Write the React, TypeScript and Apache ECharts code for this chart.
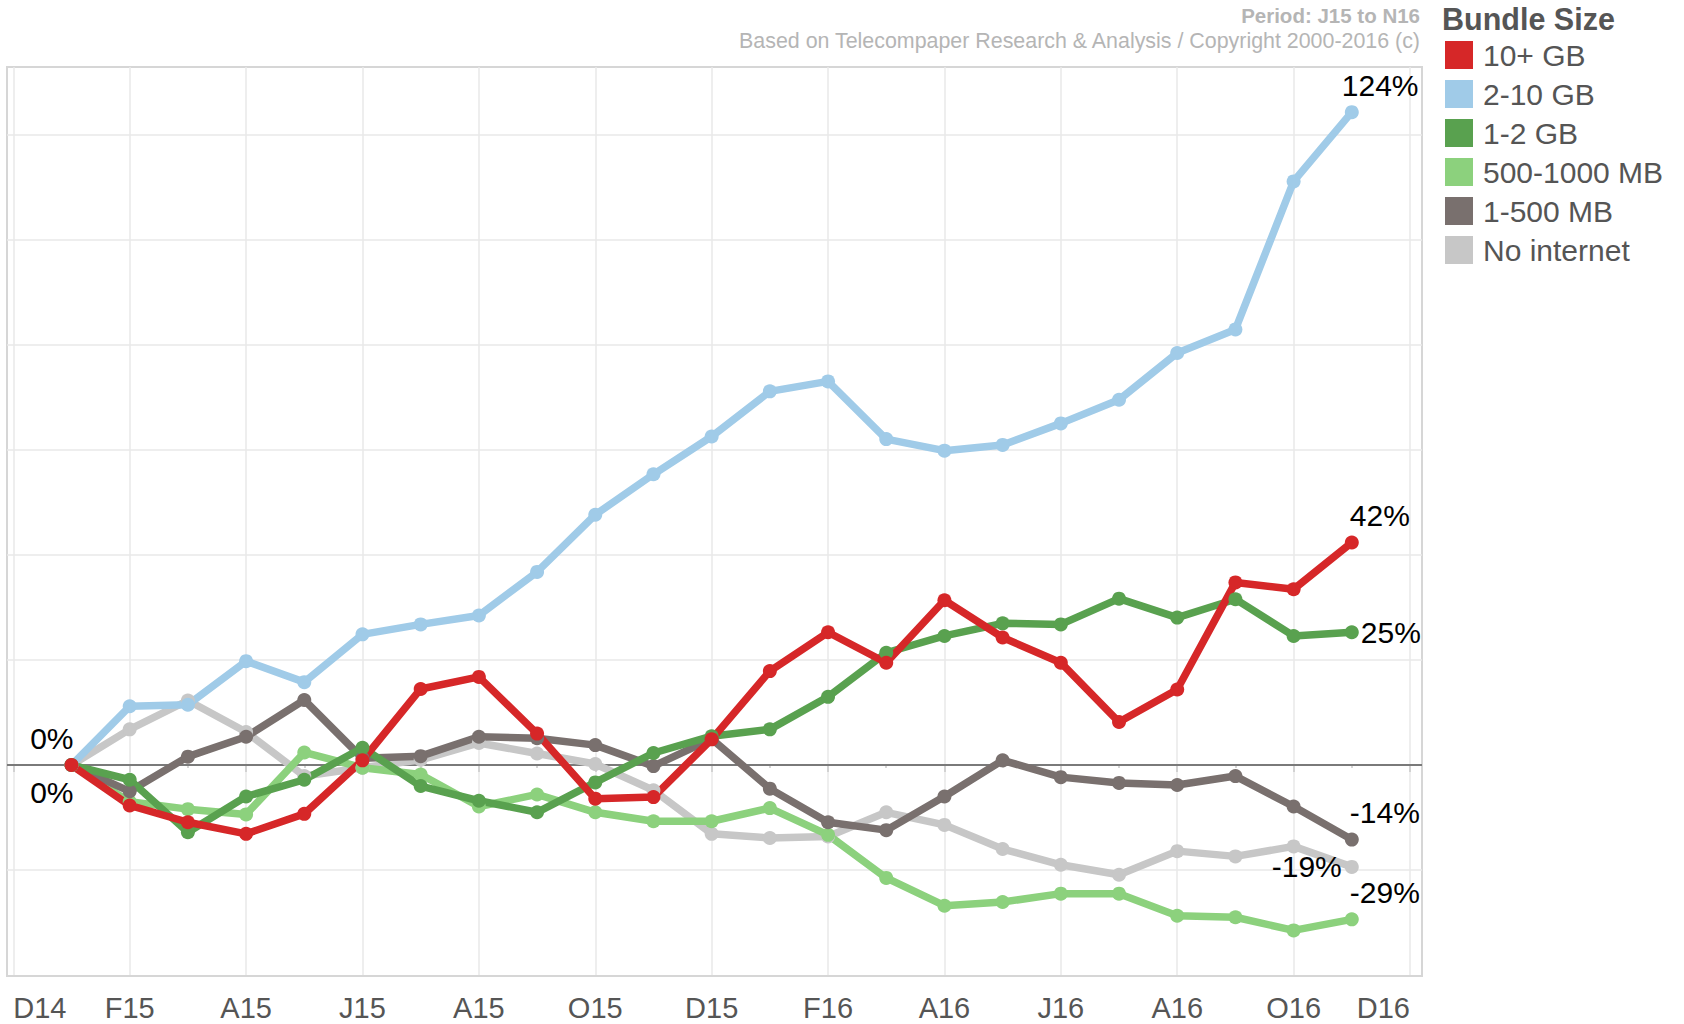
import React, { useEffect, useRef } from 'react';
import * as echarts from 'echarts';

const FONT = 'Arial, "Liberation Sans", Helvetica, sans-serif';

// Axis tick labels, every two months from Dec 2014 (month 0) to Dec 2016 (month 24)
const tickLabels = ['D14', 'F15', 'A15', 'J15', 'A15', 'O15', 'D15', 'F16', 'A16', 'J16', 'A16', 'O16', 'D16'];

// Data months: Jan 2015 .. Nov 2016
const months = ['Jan 15', 'Feb 15', 'Mar 15', 'Apr 15', 'May 15', 'Jun 15', 'Jul 15', 'Aug 15', 'Sep 15', 'Oct 15', 'Nov 15', 'Dec 15',
  'Jan 16', 'Feb 16', 'Mar 16', 'Apr 16', 'May 16', 'Jun 16', 'Jul 16', 'Aug 16', 'Sep 16', 'Oct 16', 'Nov 16'];

// Legend order
const bundles = ['10+ GB', '2-10 GB', '1-2 GB', '500-1000 MB', '1-500 MB', 'No internet'];

// % change vs January 2015
const gb10Plus = [0, -7.7, -10.9, -13.1, -9.3, 0.9, 14.5, 16.8, 6.0, -6.4, -6.1, 4.9, 17.9, 25.3, 19.5, 31.4, 24.3, 19.5, 8.2, 14.4, 34.8, 33.5, 42.4];
const gb2to10 = [0, 11.2, 11.5, 19.8, 15.8, 24.9, 26.8, 28.5, 36.8, 47.7, 55.4, 62.6, 71.2, 73.1, 62.1, 59.9, 61.0, 65.1, 69.6, 78.5, 83.0, 111.2, 124.4];
const gb1to2 = [0, -2.8, -12.8, -6.0, -2.8, 3.3, -4.0, -6.8, -9.0, -3.3, 2.3, 5.5, 6.8, 13.0, 21.4, 24.6, 27.0, 26.8, 31.7, 28.1, 31.6, 24.6, 25.3];
const mb500to1000 = [0, -7.0, -8.4, -9.4, 2.4, -0.5, -1.8, -7.9, -5.6, -9.0, -10.7, -10.7, -8.2, -13.3, -21.5, -26.8, -26.1, -24.5, -24.5, -28.7, -29.0, -31.5, -29.4];
const mb1to500 = [0, -5.0, 1.6, 5.4, 12.4, 1.3, 1.7, 5.4, 5.1, 3.8, -0.2, 5.0, -4.5, -10.9, -12.4, -6.0, 0.9, -2.3, -3.4, -3.8, -2.1, -7.9, -14.2];
const noInternet = [0, 6.8, 12.3, 6.3, -2.1, -0.5, 1.0, 4.2, 2.2, 0.2, -4.8, -13.1, -13.9, -13.6, -9.0, -11.4, -16.0, -19.0, -20.9, -16.4, -17.4, -15.5, -19.4];

const colors: Record<string, string> = {
  '10+ GB': '#d62728',
  '2-10 GB': '#a0cbe8',
  '1-2 GB': '#59a14f',
  '500-1000 MB': '#8cd17d',
  '1-500 MB': '#79706e',
  'No internet': '#c7c7c7',
};

// drawing order (bottom to top)
const seriesDefs: { name: string; values: number[]; end: any; start?: any }[] = [
  { name: 'No internet', values: noInternet, end: { position: 'left', distance: 3 } },
  { name: '500-1000 MB', values: mb500to1000, end: { position: 'top', align: 'left', offset: [-2, 0] } },
  { name: '1-500 MB', values: mb1to500, end: { position: 'top', align: 'left', offset: [-2, 0] } },
  { name: '2-10 GB', values: gb2to10, end: { position: 'top', align: 'left', offset: [-10, 0] }, start: { position: 'top', align: 'right', offset: [2, 0] } },
  { name: '1-2 GB', values: gb1to2, end: { position: 'right', distance: 2 } },
  { name: '10+ GB', values: gb10Plus, end: { position: 'top', align: 'left', offset: [-2, 0] }, start: { position: 'bottom', align: 'right', offset: [2, 0] } },
];

export default function App() {
  const ref = useRef<HTMLDivElement>(null);

  useEffect(() => {
    document.body.style.margin = '0';
    const chart = echarts.init(ref.current!, null, { renderer: 'svg' });

    const dataSeries = seriesDefs.map((def) => {
      const color = colors[def.name];
      return {
        type: 'line',
        name: def.name,
        xAxisIndex: 0,
        yAxisIndex: 0,
        data: def.values.map((v, i) => {
          const item: any = { value: [i + 1, v], name: months[i] };
          if (i === def.values.length - 1) item.label = { show: true, ...def.end };
          if (i === 0 && def.start) item.label = { show: true, ...def.start };
          return item;
        }),
        symbol: 'circle',
        symbolSize: 14,
        showAllSymbol: true,
        lineStyle: { width: 7.5, color, join: 'round', cap: 'round' },
        itemStyle: { color },
        label: {
          show: false,
          formatter: (p: any) => Math.round(p.value[1]) + '%',
          fontSize: 30,
          color: '#000',
          fontFamily: FONT,
        },
        emphasis: { disabled: true },
        silent: true,
      };
    });

    const option: any = {
      animation: false,
      backgroundColor: '#fff',
      textStyle: { fontFamily: FONT },
      grid: [
        { left: 13.3, right: 274, top: 67, bottom: 49 },
        { left: 7, right: 262, top: 67, bottom: 49 },
      ],
      legend: {
        data: bundles,
        orient: 'vertical',
        left: 1445,
        top: 40,
        padding: 0,
        itemWidth: 28,
        itemHeight: 28,
        itemGap: 9,
        icon: 'rect',
        selectedMode: false,
        textStyle: { fontSize: 30, color: '#555', fontFamily: FONT, lineHeight: 28, padding: [0, 0, 0, 5] },
      },
      xAxis: [
        {
          type: 'value',
          gridIndex: 0,
          min: 0,
          max: 24,
          interval: 2,
          offset: 5,
          axisLine: { show: false },
          axisTick: { show: true, length: 7, lineStyle: { color: '#c8c8c8', width: 1.5 } },
          minorTick: { show: true, splitNumber: 2, length: 3, lineStyle: { color: '#c8c8c8', width: 1.5 } },
          axisLabel: {
            formatter: (v: number) => tickLabels[Math.round(v / 2)] ?? '',
            fontSize: 29,
            color: '#555',
            margin: 13,
            fontFamily: FONT,
            alignMinLabel: 'left',
            alignMaxLabel: 'right',
          },
          splitLine: { show: true, lineStyle: { color: '#e8e8e8', width: 1.5 } },
        },
        {
          type: 'value',
          gridIndex: 1,
          min: 0,
          max: 1,
          show: false,
        },
      ],
      yAxis: [
        {
          type: 'value',
          gridIndex: 0,
          min: -40,
          max: 133,
          interval: 20,
          axisLine: { show: false },
          axisTick: { show: false },
          axisLabel: { show: false },
          splitLine: { show: false },
        },
        {
          type: 'value',
          gridIndex: 1,
          min: -40,
          max: 133,
          interval: 20,
          axisLine: { show: false },
          axisTick: { show: false },
          axisLabel: { show: false },
          splitLine: { show: true, showMinLine: false, showMaxLine: false, lineStyle: { color: '#e8e8e8', width: 1.5 } },
        },
      ],
      series: [
        {
          type: 'line',
          name: 'zero',
          xAxisIndex: 1,
          yAxisIndex: 1,
          data: [],
          silent: true,
          markLine: {
            silent: true,
            z: 1,
            symbol: 'none',
            label: { show: false },
            lineStyle: { color: '#7a7a7a', width: 1.8, type: 'solid' },
            data: [{ yAxis: 0 }],
          },
        },
        ...dataSeries,
      ],
      graphic: [
        {
          type: 'rect',
          z: 0,
          silent: true,
          shape: { x: 7, y: 67, width: 1415, height: 909 },
          style: { fill: 'none', stroke: '#d6d6d6', lineWidth: 2 },
        },
        {
          type: 'text',
          x: 1420,
          y: 15,
          silent: true,
          style: { text: 'Period: J15 to N16', align: 'right', verticalAlign: 'middle', font: `bold 20.5px ${FONT}`, fill: '#b5b5b5' },
        },
        {
          type: 'text',
          x: 1420,
          y: 41,
          silent: true,
          style: {
            text: 'Based on Telecompaper Research & Analysis / Copyright 2000-2016 (c)',
            align: 'right',
            verticalAlign: 'middle',
            font: `21.4px ${FONT}`,
            fill: '#b5b5b5',
          },
        },
        {
          type: 'text',
          x: 1442,
          y: 19,
          silent: true,
          style: { text: 'Bundle Size', align: 'left', verticalAlign: 'middle', font: `bold 30.5px ${FONT}`, fill: '#555' },
        },
      ],
    };

    chart.setOption(option);
    return () => chart.dispose();
  }, []);

  return <div ref={ref} style={{ width: 1684, height: 1024 }} />;
}
